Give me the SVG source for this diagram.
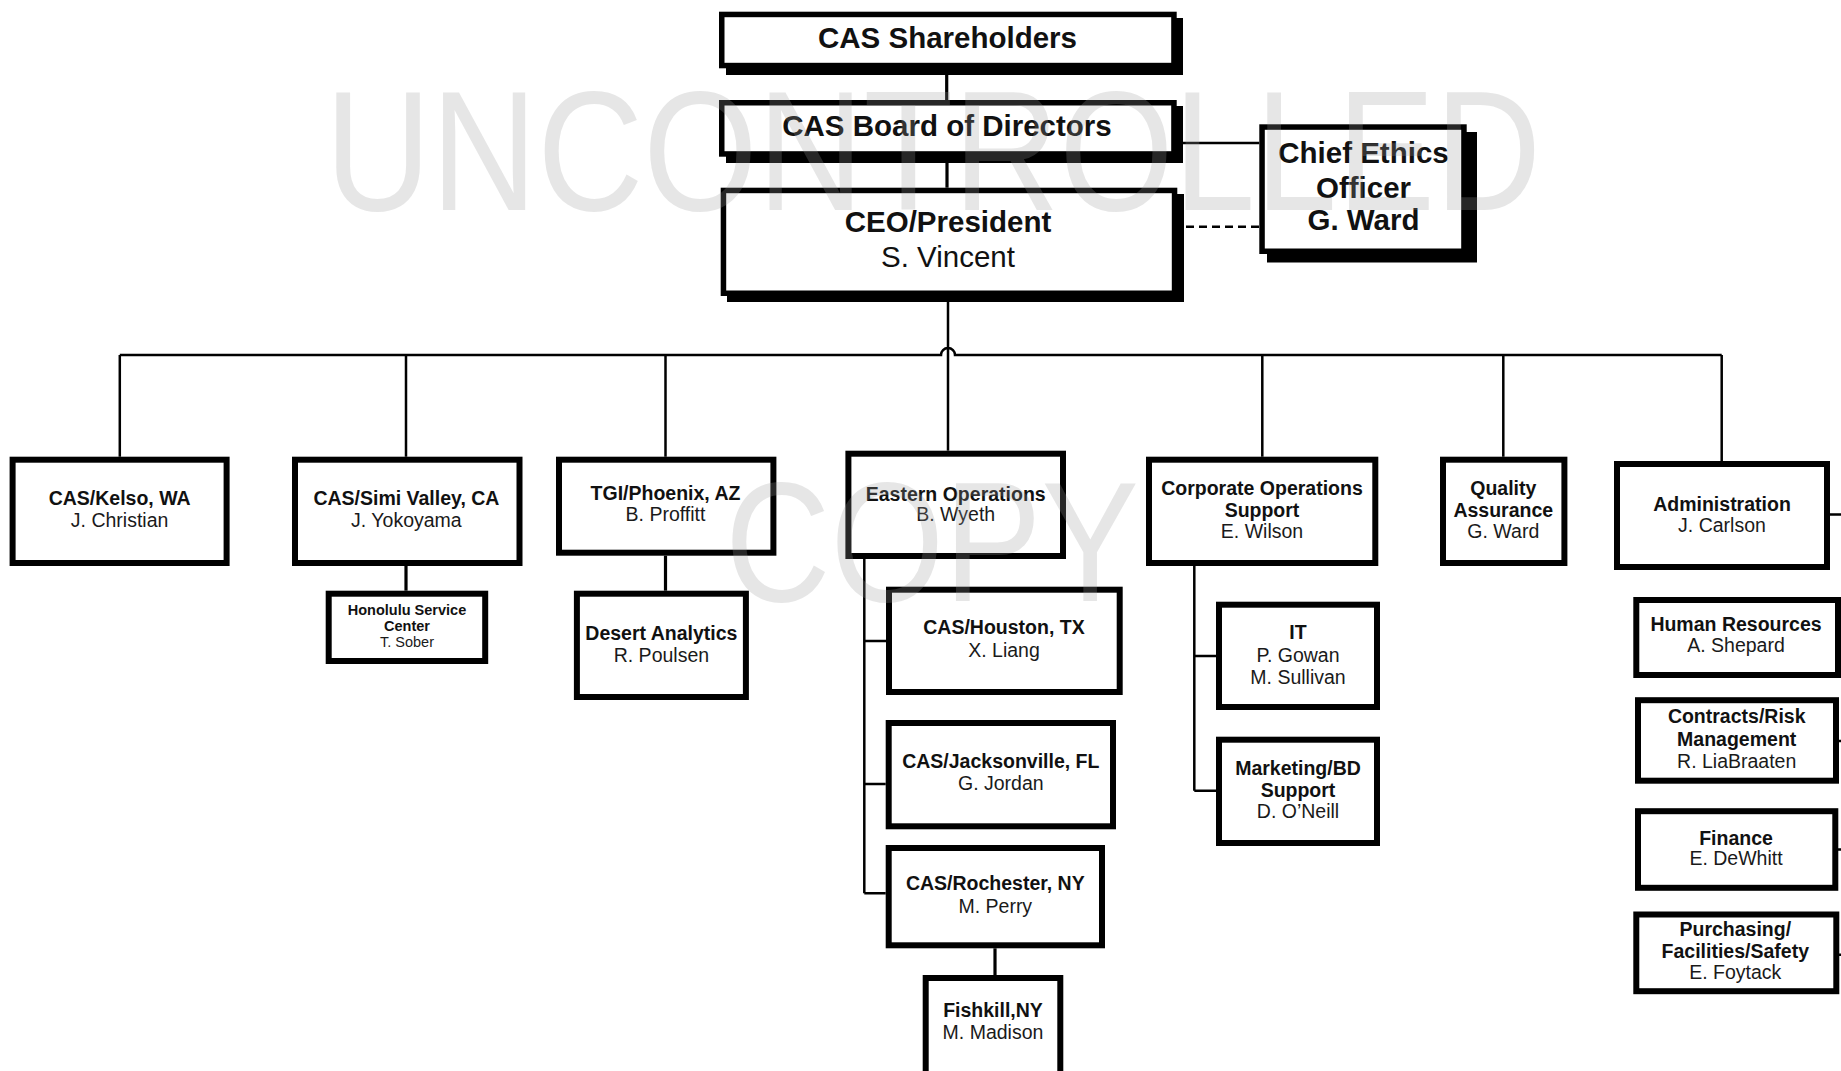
<svg xmlns="http://www.w3.org/2000/svg" width="1841" height="1071" viewBox="0 0 1841 1071">
<style>
text{font-family:"Liberation Sans",Arial,sans-serif;fill:#111;text-anchor:middle}
.t1{font-size:29.5px;font-weight:bold}
.n1{font-size:29.5px}
.b{font-size:19.5px;font-weight:bold}
.r{font-size:19.5px;fill:#1a1a1a}
.sb{font-size:14.5px;font-weight:bold}
.sr{font-size:14.5px;fill:#1a1a1a}
.box{fill:#fff;stroke:#000;stroke-width:6}
.topbox{fill:#fff;stroke:#000;stroke-width:5.5}
.shadow{fill:#000}
.ln{stroke:#000;stroke-width:2.5;fill:none}
.lt{stroke:#000;stroke-width:3.2;fill:none}
.dash{stroke:#000;stroke-width:2.5;fill:none;stroke-dasharray:8 5}
.wm{font-family:"Liberation Sans",Arial,sans-serif;font-size:171px;fill:#9a9a9a;fill-opacity:0.25;text-anchor:start}
</style>
<rect width="1841" height="1071" fill="#fff"/>
<g id="connectors">
<path class="lt" d="M946.7 75V100"/>
<path class="lt" d="M947 163V187.7"/>
<path class="ln" d="M1183 143H1259.3"/>
<path class="dash" d="M1186 226.7H1259.3"/>
<path class="ln" d="M948 302V450.7"/>
<path class="ln" d="M119.8 355H941A7 7 0 0 1 955 355H1721.7"/>
<path class="ln" d="M119.8 355V456.7M406 355V456.7M665.5 355V456.7M1262.3 355V456.7M1503.3 355V456.7M1721.7 355V461"/>
<path class="lt" d="M406 566V590.7"/>
<path class="lt" d="M665.5 555.7V590.7"/>
<path class="ln" d="M864.3 559V893.3M864.3 641H886M864.3 784H885.7M864.3 893.3H885.7"/>
<path class="lt" d="M995 948.3V975"/>
<path class="ln" d="M1194.3 566V790.7M1194.3 656H1216M1194.3 790.7H1216"/>
<path class="ln" d="M1830 514.6H1845M1838 637H1845M1839 741H1845M1838 849.5H1845M1839 954.7H1845"/>
</g>
<g id="shareholders">
<rect class="shadow" x="726" y="18" width="457" height="57"/>
<rect class="topbox" x="721.75" y="14.45" width="452.2" height="51.1"/>
<text class="t1" x="947.5" y="48">CAS Shareholders</text>
</g>
<g id="board">
<rect class="shadow" x="726" y="106" width="457" height="57"/>
<rect class="topbox" x="721.75" y="102.75" width="452.2" height="51.2"/>
<text class="t1" x="947" y="136">CAS Board of Directors</text>
</g>
<g id="ceo">
<rect class="shadow" x="727" y="194" width="457" height="108"/>
<rect class="topbox" x="723.45" y="190.45" width="451.1" height="102.8"/>
<text class="t1" x="948" y="231.7">CEO/President</text>
<text class="n1" x="948" y="266.7">S. Vincent</text>
</g>
<g id="ethics">
<rect class="shadow" x="1267" y="132" width="210" height="130.5"/>
<rect class="topbox" x="1262.05" y="127.05" width="201.9" height="124.2"/>
<text class="t1" x="1363.5" y="163.3">Chief Ethics</text>
<text class="t1" x="1363.5" y="198.3">Officer</text>
<text class="t1" x="1363.5" y="230">G. Ward</text>
</g>
<g id="kelso">
<rect class="box" x="12.6" y="459.7" width="214" height="103.3"/>
<text class="b" x="119.6" y="505">CAS/Kelso, WA</text>
<text class="r" x="119.6" y="527.3">J. Christian</text>
</g>
<g id="simi">
<rect class="box" x="295" y="459.7" width="224.5" height="103.3"/>
<text class="b" x="406.4" y="505">CAS/Simi Valley, CA</text>
<text class="r" x="406.4" y="527.3">J. Yokoyama</text>
</g>
<g id="honolulu">
<rect class="box" x="328.7" y="593.7" width="156.5" height="67.3"/>
<text class="sb" x="407" y="615">Honolulu Service</text>
<text class="sb" x="407" y="630.7">Center</text>
<text class="sr" x="407" y="647.3">T. Sober</text>
</g>
<g id="tgi">
<rect class="box" x="559" y="459.7" width="214.4" height="93"/>
<text class="b" x="665.5" y="500">TGI/Phoenix, AZ</text>
<text class="r" x="665.5" y="521">B. Proffitt</text>
</g>
<g id="desert">
<rect class="box" x="576.9" y="593.7" width="169" height="103.3"/>
<text class="b" x="661.4" y="640">Desert Analytics</text>
<text class="r" x="661.4" y="661.7">R. Poulsen</text>
</g>
<g id="eastern">
<rect class="box" x="848.4" y="453.7" width="214.6" height="102.3"/>
<text class="b" x="955.7" y="500.7">Eastern Operations</text>
<text class="r" x="955.7" y="521">B. Wyeth</text>
</g>
<g id="houston">
<rect class="box" x="889" y="589.7" width="230.7" height="102.3"/>
<text class="b" x="1004" y="634">CAS/Houston, TX</text>
<text class="r" x="1004" y="656.7">X. Liang</text>
</g>
<g id="jacksonville">
<rect class="box" x="888.7" y="723" width="224.3" height="103.3"/>
<text class="b" x="1000.8" y="768.3">CAS/Jacksonville, FL</text>
<text class="r" x="1000.8" y="790">G. Jordan</text>
</g>
<g id="rochester">
<rect class="box" x="888.7" y="848" width="213.3" height="97.3"/>
<text class="b" x="995.3" y="890">CAS/Rochester, NY</text>
<text class="r" x="995.3" y="912.7">M. Perry</text>
</g>
<g id="fishkill">
<rect class="box" x="925.7" y="978" width="134.6" height="110"/>
<text class="b" x="993" y="1017.3">Fishkill,NY</text>
<text class="r" x="993" y="1039">M. Madison</text>
</g>
<g id="corpops">
<rect class="box" x="1149" y="459.7" width="226.3" height="103.3"/>
<text class="b" x="1262" y="495">Corporate Operations</text>
<text class="b" x="1262" y="517.3">Support</text>
<text class="r" x="1262" y="538.3">E. Wilson</text>
</g>
<g id="it">
<rect class="box" x="1219" y="604.7" width="158" height="102.3"/>
<text class="b" x="1298" y="639.3">IT</text>
<text class="r" x="1298" y="661.7">P. Gowan</text>
<text class="r" x="1298" y="684">M. Sullivan</text>
</g>
<g id="marketing">
<rect class="box" x="1219" y="739.7" width="158" height="103.3"/>
<text class="b" x="1298" y="775">Marketing/BD</text>
<text class="b" x="1298" y="796.7">Support</text>
<text class="r" x="1298" y="818.3">D. O’Neill</text>
</g>
<g id="qa">
<rect class="box" x="1443" y="459.7" width="121.4" height="103.3"/>
<text class="b" x="1503.3" y="495">Quality</text>
<text class="b" x="1503.3" y="517.3">Assurance</text>
<text class="r" x="1503.3" y="538.3">G. Ward</text>
</g>
<g id="admin">
<rect class="box" x="1617" y="464" width="210" height="103"/>
<text class="b" x="1722" y="510.8">Administration</text>
<text class="r" x="1722" y="531.8">J. Carlson</text>
</g>
<g id="hr">
<rect class="box" x="1636.3" y="600" width="201.7" height="75"/>
<text class="b" x="1736" y="631.3">Human Resources</text>
<text class="r" x="1736" y="652.4">A. Shepard</text>
</g>
<g id="contracts">
<rect class="box" x="1638" y="700.2" width="198" height="80.5"/>
<text class="b" x="1736.7" y="723.2">Contracts/Risk</text>
<text class="b" x="1736.7" y="746.2">Management</text>
<text class="r" x="1736.7" y="768">R. LiaBraaten</text>
</g>
<g id="finance">
<rect class="box" x="1638" y="811.2" width="197.3" height="76.6"/>
<text class="b" x="1736" y="844.9">Finance</text>
<text class="r" x="1736" y="864.8">E. DeWhitt</text>
</g>
<g id="purchasing">
<rect class="box" x="1636.3" y="914.5" width="200" height="76.7"/>
<text class="b" x="1735.3" y="935.6">Purchasing/</text>
<text class="b" x="1735.3" y="957.8">Facilities/Safety</text>
<text class="r" x="1735.3" y="978.8">E. Foytack</text>
</g>
<g id="watermark">
<text class="wm" x="325" y="210" textLength="1216" lengthAdjust="spacingAndGlyphs">UNCONTROLLED</text>
<text class="wm" x="725" y="601" textLength="414" lengthAdjust="spacingAndGlyphs">COPY</text>
</g>
</svg>
